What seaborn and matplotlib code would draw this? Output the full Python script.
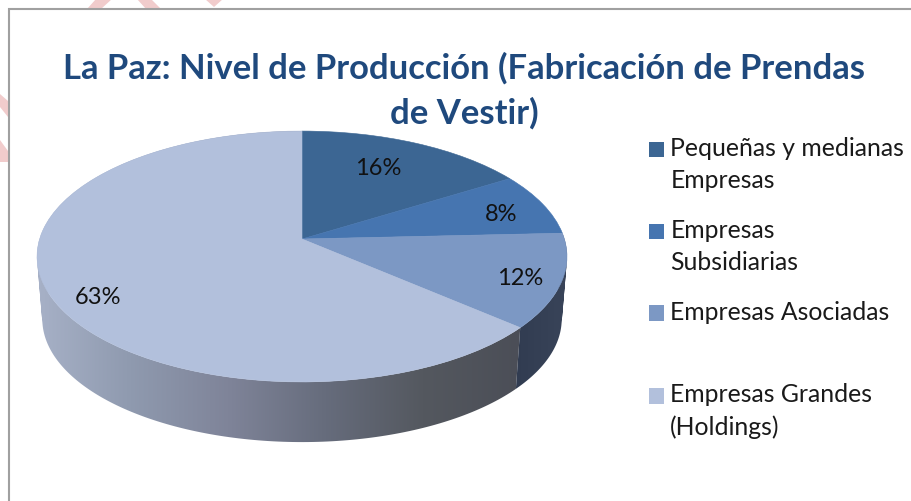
import numpy as np
import matplotlib
matplotlib.use("Agg")
import matplotlib.pyplot as plt
import seaborn as sns
from matplotlib.patches import Polygon, Rectangle, Patch
from matplotlib.path import Path
from matplotlib.transforms import Transform
from matplotlib.colors import LinearSegmentedColormap

categories = ["Pequeñas y medianas\nEmpresas", "Empresas\nSubsidiarias",
              "Empresas Asociadas\n ", "Empresas Grandes\n(Holdings)"]
values = [16, 8, 12, 63]
top_colors = ["#3C6693", "#4675B0", "#7C98C4", "#B2C0DC"]
title = "La Paz: Nivel de Producción (Fabricación de Prendas\nde Vestir)"
label_xy = [(378, 169), (501, 215), (520, 279), (98, 298)]

W, H = 911, 502
CX, CY, RX, AY, K = 302.0, 240.0, 262.4, 123.0, 0.1395
WALL_S, WALL_D = 0.98, 63.0


class Tilt(Transform):
    """Perspective view of the unit-circle pie, in pixel-like data units."""
    input_dims = output_dims = 2
    is_separable = False
    has_inverse = False

    def __init__(self, scale=1.0, drop=0.0):
        super().__init__()
        self.scale, self.drop = scale, drop

    def transform_non_affine(self, xy):
        xy = np.asarray(xy, float)
        d = 1 + K * xy[:, 1]
        return np.column_stack([CX + self.scale * RX * xy[:, 0] / d,
                                CY - self.scale * AY * xy[:, 1] / d + self.drop])


sns.set_theme(style="white")
plt.rcParams["font.family"] = ["Lato", "DejaVu Sans"]
fig = plt.figure(figsize=(W / 100, H / 100), dpi=100, facecolor="white")
ax = fig.add_axes([0, 0, 1, 1])

wedges, _ = ax.pie(values, colors=sns.color_palette(top_colors), startangle=90,
                   counterclock=False, radius=1,
                   wedgeprops=dict(linewidth=0.4))
ax.set_aspect("auto")
ax.set_xlim(0, W)
ax.set_ylim(H, 0)
ax.axis("off")
top = Tilt()
for w, c in zip(wedges, top_colors):
    w.set_transform(top + ax.transData)
    w.set_edgecolor(c)
    w.set_zorder(5)

# background: pink watermark pieces outside the white frame
pink = "#F1CCCC"
for pts in [[(87, 10), (101, 10), (112, 0), (96, 0)],
            [(146, 10), (161, 10), (151, 0), (137, 0)],
            [(205, 0), (223, 0), (214, 8)],
            [(0, 95), (0, 108), (8, 118), (8, 102)],
            [(0, 141), (0, 163), (8, 163), (8, 152)]]:
    ax.add_patch(Polygon(pts, closed=True, fc=pink, ec="none", zorder=0))
ax.add_patch(Rectangle((9, 10), 1000, 1000, fc="white", ec="#A0A0A0", lw=1.5, zorder=1))

# side wall: quads between the top rim and the lowered rim of each wedge
wall_maps = {
    3: ["#A8B2C8", "#8F9AAF", "#7F8499", "#666C7C", "#54585F", "#4B4E57"],
    2: ["#303B50", "#3A455A"],
}
bot = Tilt(WALL_S, WALL_D)


def oriented_quad(q):
    x, y = q[:, 0], q[:, 1]
    area = np.sum(x * np.roll(y, -1) - np.roll(x, -1) * y)
    return q if area > 0 else q[::-1]


for idx, stops in wall_maps.items():
    w = wedges[idx]
    th = np.radians(np.linspace(w.theta1, w.theta2, 240))
    ring = np.column_stack([np.cos(th), np.sin(th)])
    a = top.transform(ring)
    b = bot.transform(ring)
    verts, codes = [], []
    for i in range(len(a) - 1):
        q = oriented_quad(np.array([a[i], a[i + 1], b[i + 1], b[i]]))
        verts.extend(list(q) + [q[0]])
        codes.extend([Path.MOVETO, Path.LINETO, Path.LINETO, Path.LINETO, Path.CLOSEPOLY])
    x0, x1 = (38, 516) if idx == 3 else (514, 568)
    pad = 6
    cmap = LinearSegmentedColormap.from_list(f"wall{idx}", stops)
    im = ax.imshow(np.linspace(0, 1, 256)[None, :], cmap=cmap, aspect="auto",
                   extent=(x0 - pad, x1 + pad, 450, 130), zorder=3, interpolation="bilinear")
    im.set_clip_path(Path(verts, codes), ax.transData)
ax.set_xlim(0, W)
ax.set_ylim(H, 0)

for v, (x, y) in zip(values, label_xy):
    ax.text(x, y, f"{v}%", ha="center", va="center", fontsize=17, color="#111111", zorder=8)

ax.set_title(title, x=464 / W, y=1 - 138 / H, va="bottom", ha="center",
             fontsize=24.9, fontweight="bold", color="#1F497D", linespacing=1.46, zorder=9)

handles = [Patch(facecolor=c, edgecolor="none") for c in top_colors]
leg = ax.legend(handles, categories, loc="upper left",
                bbox_to_anchor=(649 / W, 1 - 137.5 / H), frameon=False, fontsize=17.8,
                borderpad=0, borderaxespad=0, handlelength=0.6, handleheight=0.6,
                handletextpad=0.26, labelspacing=1.106, labelcolor="#1A1A1A")
leg.set_zorder(9)
for t in leg.get_texts():
    t.set_linespacing(1.45)
for p in leg.get_patches():
    p.set_y(p.get_y() + 10.8)

fig.savefig("out.png", dpi=100, facecolor="white")
